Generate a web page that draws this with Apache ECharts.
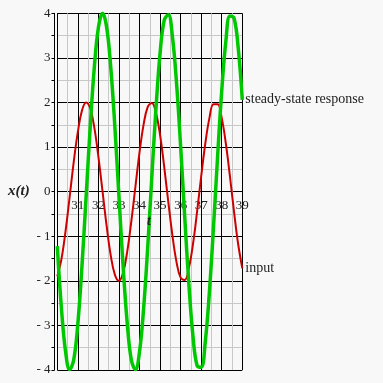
<!DOCTYPE html>
<html>
<head>
<meta charset="utf-8">
<script src="https://cdn.jsdelivr.net/npm/echarts@6/dist/echarts.min.js"></script>
<style>
html,body{margin:0;padding:0;background:#f8f8f8;}
#chart{width:383px;height:383px;}
</style>
</head>
<body>
<div id="chart"></div>
<script>
// time samples (t)
var tValues = [30.0,30.2,30.4,30.6,30.8,31.0,31.2,31.4,31.6,31.8,32.0,32.2,32.4,32.6,32.8,33.0,33.2,33.4,33.6,33.8,34.0,34.2,34.4,34.6,34.8,35.0,35.2,35.4,35.6,35.8,36.0,36.2,36.4,36.6,36.8,37.0,37.2,37.4,37.6,37.8,38.0,38.2,38.4,38.6,38.8,39.0];
// input x(t)
var inputValues = [-1.90,-1.52,-0.89,-0.12,0.67,1.34,1.82,2.00,1.87,1.44,0.78,0.01,-0.77,-1.43,-1.86,-2.00,-1.82,-1.35,-0.67,0.11,0.88,1.51,1.90,1.99,1.77,1.27,0.56,-0.23,-0.98,-1.58,-1.93,-1.98,-1.71,-1.18,-0.45,0.34,1.08,1.65,1.96,1.96,1.65,1.08,0.34,-0.46,-1.18,-1.72];
// steady-state response x(t)
var responseValues = [-1.22,-2.61,-3.58,-3.99,-3.77,-2.96,-1.67,-0.13,1.44,2.78,3.68,4.00,3.69,2.79,1.46,-0.11,-1.66,-2.94,-3.77,-3.99,-3.59,-2.62,-1.24,0.34,1.86,3.10,3.84,3.97,3.48,2.44,1.02,-0.57,-2.07,-3.24,-3.90,-3.94,-3.36,-2.25,-0.79,0.80,2.26,3.37,3.94,3.89,3.23,2.06];
var seriesNames = ['input', 'steady-state response'];
var xTickLabels = ['31','32','33','34','35','36','37','38','39'];
var yTickLabels = ['- 4','- 3','- 2','- 1','0','1','2','3','4'];

function pairs(xs, ys){ return xs.map(function(x,i){ return [x, ys[i]]; }); }

var chart = echarts.init(document.getElementById('chart'), null, {renderer:'canvas'});
var serif = '"Liberation Serif","Times New Roman",serif';
var gridLine = {show:true, lineStyle:{color:'#000', width:1}};
var minorLine = {show:true, lineStyle:{color:'#c8c8c8', width:1}};
var plotTop = 13.3, plotBottom = 13;
var plotHeight = 383 - plotTop - plotBottom;
var zeroOffset = -(plotHeight / 2);

chart.setOption({
  backgroundColor:'#f8f8f8',
  animation:false,
  title:[
    {text:'x(t)', left:8, top:184, padding:0, textStyle:{fontFamily:serif, fontStyle:'italic', fontWeight:'bold', fontSize:15, color:'#222'}},
    {text:'t', left:147, top:214, padding:0, textStyle:{fontFamily:serif, fontStyle:'italic', fontWeight:'bold', fontSize:14, color:'#222'}}
  ],
  grid:[
    {left:57.3, right:140.7, top:plotTop, bottom:plotBottom, containLabel:false},
    {left:54.5, right:140.7, top:plotTop, bottom:plotBottom, containLabel:false}
  ],
  xAxis:[
    {gridIndex:0, type:'value', min:30, max:39, interval:1, position:'bottom', offset:zeroOffset,
     axisLine:{show:false},
     axisTick:{show:false},
     splitLine:gridLine,
     minorTick:{show:false, splitNumber:2},
     minorSplitLine:minorLine,
     axisLabel:{show:true, margin:7, fontFamily:serif, fontSize:13, color:'#222',
       formatter:function(v){ var s=String(Math.round(v)); return xTickLabels.indexOf(s)>=0 ? s : ''; }}
    },
    {gridIndex:1, type:'value', min:29.864, max:39, show:false}
  ],
  yAxis:[
    {gridIndex:0, type:'value', min:-4, max:4, interval:1,
     axisLine:{show:false}, axisTick:{show:false}, axisLabel:{show:false},
     splitLine:gridLine,
     minorTick:{show:false, splitNumber:2},
     minorSplitLine:minorLine
    },
    {gridIndex:1, type:'value', min:-4, max:4, interval:1, position:'left',
     axisLine:{show:true, onZero:false, lineStyle:{color:'#000', width:1}},
     axisTick:{show:true, length:3, lineStyle:{color:'#000'}},
     minorTick:{show:true, splitNumber:2, length:3, lineStyle:{color:'#000'}},
     splitLine:{show:false},
     axisLabel:{show:true, margin:4, fontFamily:serif, fontSize:13, color:'#222',
       formatter:function(v){ return yTickLabels[Math.round(v)+4]; }}
    }
  ],
  series:[
    {name:seriesNames[0], type:'line', xAxisIndex:0, yAxisIndex:0, data:pairs(tValues, inputValues),
     smooth:0.4, showSymbol:false, lineStyle:{color:'#cc0000', width:2}, itemStyle:{color:'#cc0000'},
     endLabel:{show:true, formatter:'{a}', distance:3, fontFamily:serif, fontSize:14, color:'#222'}, z:2},
    {name:seriesNames[1], type:'line', xAxisIndex:0, yAxisIndex:0, data:pairs(tValues, responseValues),
     smooth:0.4, showSymbol:false, lineStyle:{color:'#00c800', width:3.5}, itemStyle:{color:'#00c800'},
     endLabel:{show:true, formatter:'{a}', distance:3, fontFamily:serif, fontSize:14, color:'#222'}, z:3}
  ]
});
</script>
</body>
</html>
